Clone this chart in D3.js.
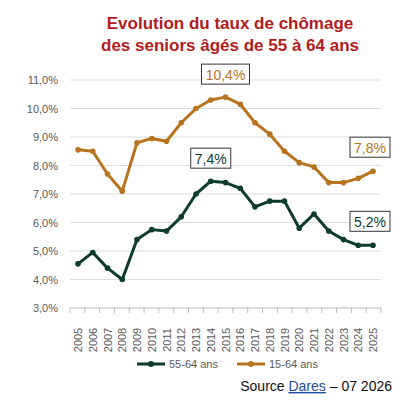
<!DOCTYPE html>
<html><head><meta charset="utf-8">
<script src="https://cdn.jsdelivr.net/npm/d3@7"></script>
<style>
body{margin:0;background:#fff;font-family:Arial,"Liberation Sans",sans-serif}
text{font-family:Arial,"Liberation Sans",sans-serif}
</style></head><body>
<svg id="c" width="412" height="419"></svg>
<script>
const years = d3.range(2005, 2026)
const s5564 = [4.55, 4.95, 4.4, 4.0, 5.4, 5.75, 5.7, 6.2, 7.0, 7.45, 7.4, 7.2, 6.55, 6.75, 6.75, 5.8, 6.3, 5.7, 5.4, 5.2, 5.2]
const s1564 = [8.55, 8.5, 7.7, 7.1, 8.8, 8.95, 8.85, 9.5, 10.0, 10.3, 10.4, 10.15, 9.5, 9.1, 8.5, 8.1, 7.95, 7.4, 7.4, 7.55, 7.8]
const yTicks = [3, 4, 5, 6, 7, 8, 9, 10, 11]
const series = [
  { name: '55-64 ans', values: s5564, color: '#0d3b2e', label: [[2014, '7,4%'], [2025, '5,2%']] },
  { name: '15-64 ans', values: s1564, color: '#b8731f', label: [[2015, '10,4%'], [2025, '7,8%']] }
]
const fmt = d => d.toFixed(1).replace('.', ',') + '%'

const svg = d3.select('#c')
svg.append('text').attr('x', 230).attr('y', 29).attr('text-anchor', 'middle')
  .attr('fill', '#b01c1c').attr('font-weight', 'bold').attr('font-size', 17).text('Evolution du taux de chômage')
svg.append('text').attr('x', 230).attr('y', 51).attr('text-anchor', 'middle')
  .attr('fill', '#b01c1c').attr('font-weight', 'bold').attr('font-size', 17).text('des seniors âgés de 55 à 64 ans')

const x = d3.scalePoint().domain(years).range([78, 373])
const y = d3.scaleLinear().domain([3, 11]).range([308, 80])

const g = svg.append('g')
g.selectAll('.grid').data(yTicks).enter().append('line')
  .attr('x1', 70).attr('x2', 381).attr('y1', d => y(d)).attr('y2', d => y(d))
  .attr('stroke', d => d === 3 ? '#bbb' : '#ddd').attr('stroke-width', 1)
g.selectAll('.yl').data(yTicks).enter().append('text')
  .attr('x', 58).attr('y', d => y(d) + 4).attr('text-anchor', 'end')
  .attr('font-size', 11).attr('fill', '#595959').text(fmt)
g.selectAll('.xt').data(d3.range(years.length + 1)).enter().append('line')
  .attr('x1', i => 70 + i * (311 / 21)).attr('x2', i => 70 + i * (311 / 21))
  .attr('y1', 308).attr('y2', 313).attr('stroke', '#bbb')
g.selectAll('.xl').data(years).enter().append('text')
  .attr('transform', d => `translate(${x(d) + 4},340) rotate(-90)`)
  .attr('font-size', 11).attr('fill', '#595959').attr('text-anchor', 'middle').text(d => d)

const line = d3.line().x((d, i) => x(years[i])).y(d => y(d))
series.forEach(s => {
  g.append('path').attr('d', line(s.values)).attr('fill', 'none')
    .attr('stroke', s.color).attr('stroke-width', 3).attr('stroke-linejoin', 'round')
  g.selectAll(null).data(s.values).enter().append('circle')
    .attr('cx', (d, i) => x(years[i])).attr('cy', d => y(d)).attr('r', 2.8).attr('fill', s.color)
  s.label.forEach(([yr, t]) => {
    const v = s.values[years.indexOf(yr)]
    const cx = yr === 2025 ? 370 : x(yr)
    const cy = y(v) - (yr === 2025 ? 23 : 22)
    const w = t.length * 8 + 8
    g.append('rect').attr('x', cx - w / 2).attr('y', cy - 11).attr('width', w).attr('height', 20)
      .attr('fill', '#fff').attr('stroke', '#333').attr('stroke-width', 1)
    g.append('text').attr('x', cx).attr('y', cy + 5).attr('text-anchor', 'middle')
      .attr('font-size', 14).attr('fill', s.color === '#b8731f' ? '#b8731f' : '#0d3b2e').text(t)
  })
})

const lg = svg.append('g').attr('transform', 'translate(0,364)')
series.forEach((s, i) => {
  const lx = 137 + i * 100
  lg.append('line').attr('x1', lx).attr('x2', lx + 28).attr('stroke', s.color).attr('stroke-width', 3)
  lg.append('circle').attr('cx', lx + 14).attr('r', 3).attr('fill', s.color)
  lg.append('text').attr('x', lx + 32).attr('y', 4).attr('font-size', 11).attr('fill', '#595959').text(s.name)
})

const src = svg.append('text').attr('x', 392).attr('y', 391).attr('text-anchor', 'end').attr('font-size', 14).attr('fill', '#111')
src.append('tspan').text('Source ')
src.append('tspan').attr('fill', '#1f4e9c').attr('text-decoration', 'underline').text('Dares')
src.append('tspan').text(' – 07 2026')
</script></body></html>
